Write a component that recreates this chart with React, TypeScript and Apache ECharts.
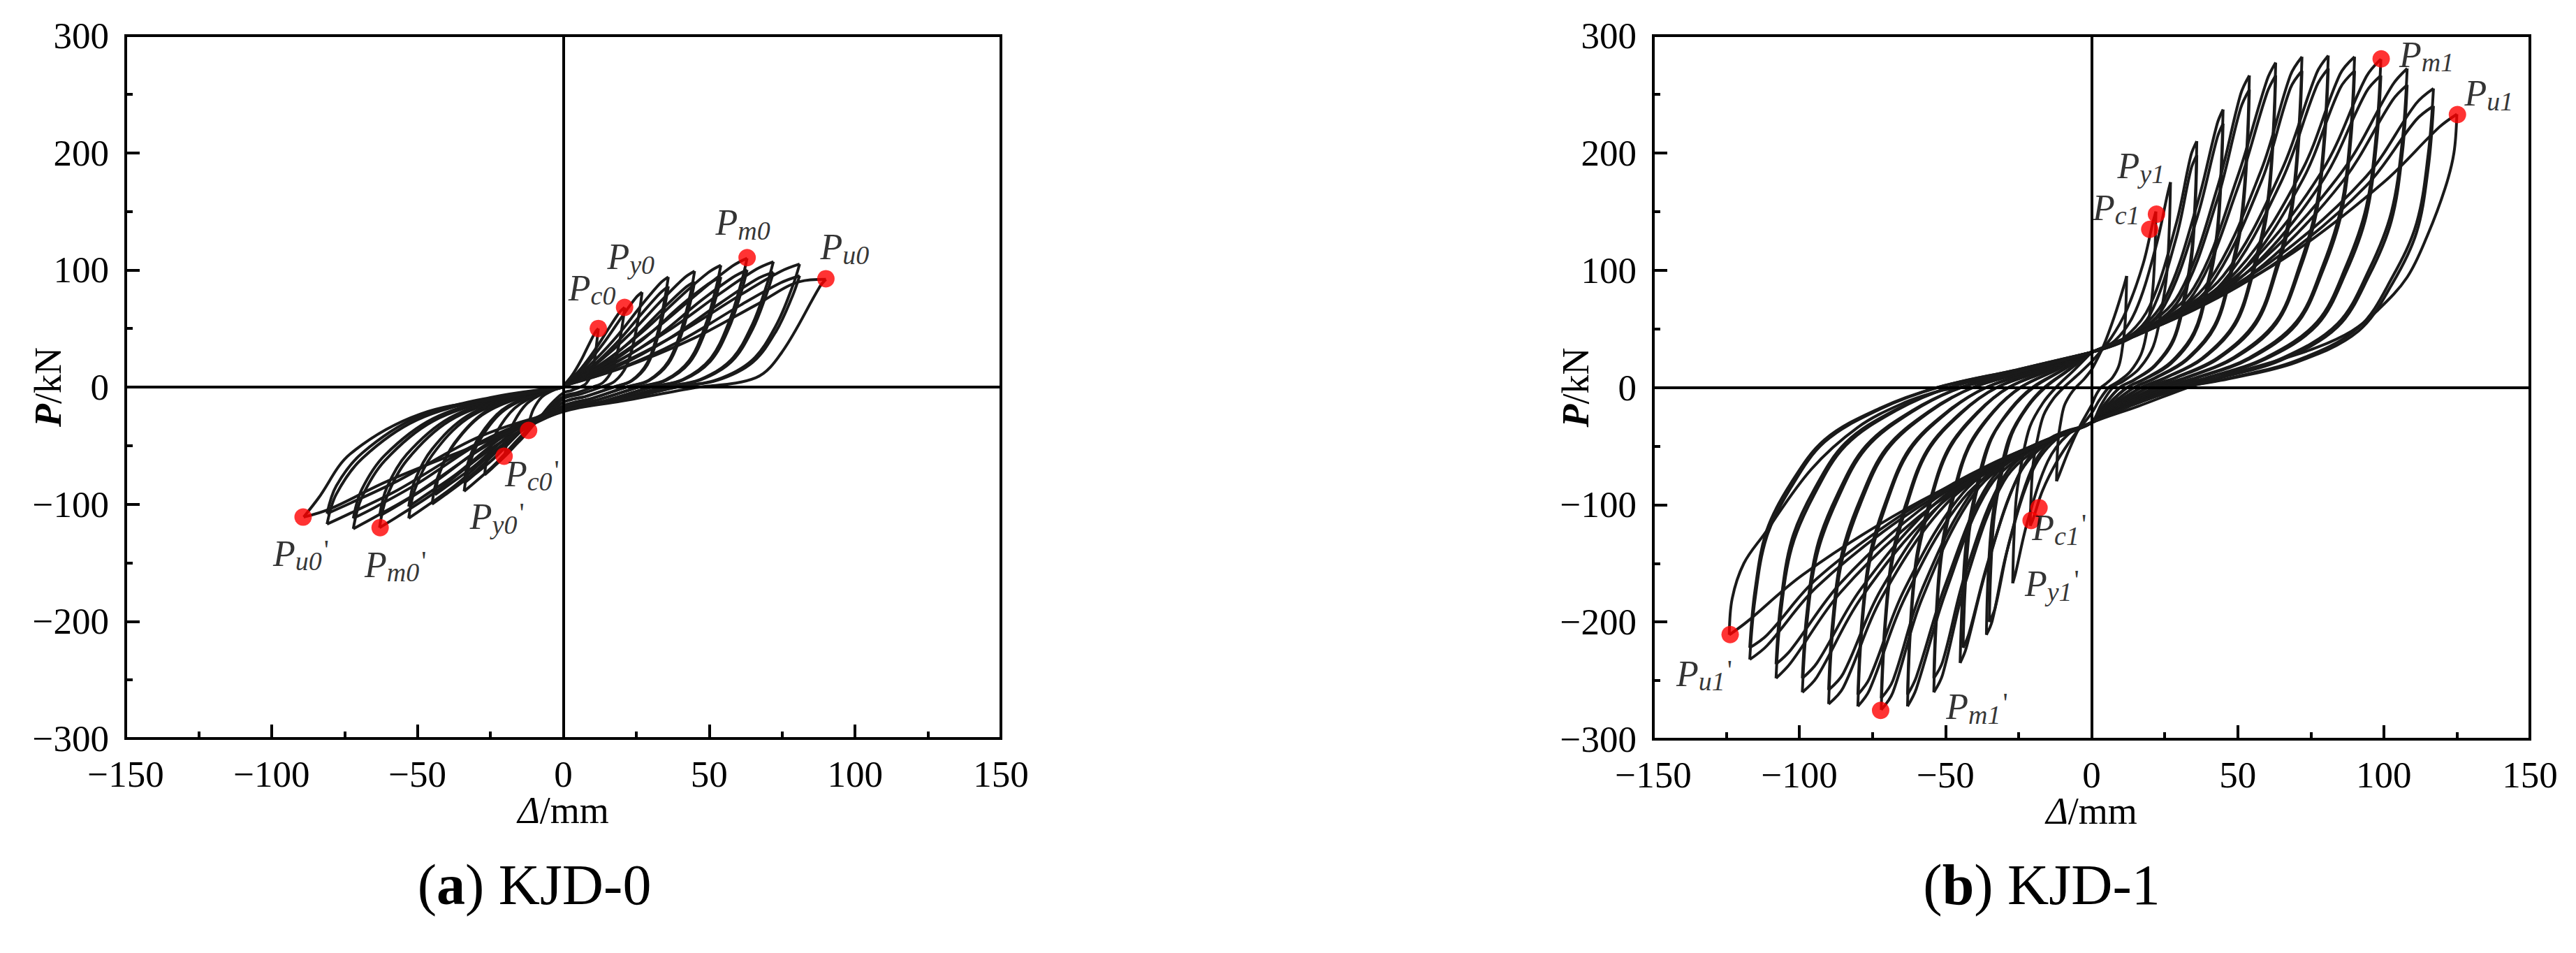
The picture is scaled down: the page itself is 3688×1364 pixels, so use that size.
import React, { useEffect, useRef } from 'react';
import * as echarts from 'echarts';

const FONT = 'Liberation Serif';
const CURVE_COLOR = '#1a1a1a';

// ---------- axis ticks ----------
const X_MIN = -150, X_MAX = 150, X_STEP = 50;
const Y_MIN = -300, Y_MAX = 300, Y_STEP = 100;

// ---------- KJD-0 hysteresis loops (flat x,y lists, Δ/mm, P/kN) ----------
const A1 = [0,1, 3,10, 6,22.5, 9,37.5, 11,47, 12,50, 11.6,41, 10.8,25, 9.6,11, 7.8,3, 5.8,0, 2.6,-3, 0,-5, -4.2,-14.4, -8.4,-27, -10.8,-33, -12,-36, -11.5,-28, -10.2,-18.7, -7.4,-8.6, -3.6,-2.9, 0,0];
const A2 = [0,1, 5.3,13.6, 10.5,30.6, 15.8,51, 19.3,64, 21,68, 20.4,55.8, 18.9,34, 16.8,15, 13.7,4.1, 10.1,0, 4.6,-4.8, 0,-8, -7,-23.2, -14,-43.5, -18,-53.4, -20,-58, -19.2,-45.2, -17,-30.2, -12.4,-13.9, -6,-4.6, 0,0];
const A3 = [0,1, 6.8,16.2, 13.5,36.5, 20.3,60.8, 24.8,76.1, 27,81, 26.2,66.4, 24.3,40.5, 21.6,17.8, 17.6,4.9, 13,0, 5.9,-6, 0,-10, -9.5,-30, -18.9,-56.3, -24.3,-69, -27,-75, -25.9,-58.5, -23,-39, -16.7,-18, -8.1,-6, 0,0];
const A4 = [0,1, 9,18.8, 18,42.3, 27,70.5, 33.1,88.4, 36,94, 34.9,77.1, 32.4,47, 28.8,20.7, 23.4,5.6, 17.3,0, 7.9,-7.8, 0,-13, -11.9,-35.6, -23.8,-66.8, -30.6,-81.9, -34,-89, -32.6,-69.4, -28.9,-46.3, -21.1,-21.4, -10.2,-7.1, 0,0];
const A4B = [0,1, 9,16, 18,37, 27,63, 33.1,80, 36,86, 34.9,70.5, 32.4,43, 28.8,19, 23.4,5.2, 17.3,0, 7.9,-7.8, 0,-13, -11.9,-32, -23.8,-61, -30.6,-75, -34,-82, -32.6,-64, -28.9,-42.6, -21.1,-19.7, -10.2,-6.6, 0,0];
const A5 = [0,1, 11.3,19.8, 22.5,44.6, 33.8,74.3, 41.4,93.1, 45,99, 43.7,81.2, 40.5,49.5, 36,21.8, 29.3,5.9, 21.6,0, 9.9,-9.6, 0,-16, -15.8,-40, -31.5,-75, -40.5,-92, -45,-100, -43.2,-78, -38.3,-52, -27.9,-24, -13.5,-8, 0,0];
const A5B = [0,1, 11.3,16, 22.5,38, 33.8,66, 41.4,84, 45,90, 43.7,74, 40.5,45, 36,20, 29.3,5.4, 21.6,0, 9.9,-9.6, 0,-16, -15.4,-35, -30.8,-68, -39.6,-84, -44,-92, -42.2,-72, -37.4,-48, -27.3,-22, -13.2,-7.4, 0,0];
const A6 = [0,1, 13.5,20.8, 27,46.8, 40.5,78, 49.7,97.8, 54,104, 52.4,85.3, 48.6,52, 43.2,22.9, 35.1,6.2, 25.9,0, 11.9,-10.8, 0,-18, -18.6,-44.8, -37.1,-84, -47.7,-103, -53,-112, -50.9,-87.4, -45,-58.2, -32.9,-26.9, -15.9,-9, 0,0];
const A6B = [0,1, 13.5,17, 27,40, 40.5,70, 49.7,88, 54,94, 52.4,77, 48.6,47, 43.2,20.7, 35.1,5.6, 25.9,0, 11.9,-10.8, 0,-18, -18.6,-39, -37.1,-75, -47.7,-93, -53,-102, -50.9,-79.6, -45,-53, -32.9,-24.5, -15.9,-8.2, 0,0];
const A7 = [0,1, 15.8,22, 31.5,49.5, 47.3,82.5, 58,103.4, 63,110, 61.1,90.2, 56.7,55, 50.4,24.2, 41,6.6, 30.2,0, 13.9,-12, 0,-20, -22,-48, -44.1,-90, -56.7,-110.4, -63,-120, -60.5,-93.6, -53.6,-62.4, -39,-28.8, -18.9,-9.6, 0,0];
const A7B = [0,1, 15.8,18, 31.5,42, 47.3,74, 58,93.5, 63,100, 61.1,82, 56.7,50, 50.4,22, 41,6, 30.2,0, 13.9,-12, 0,-20, -22,-42, -44.1,-81, -56.7,-101, -63,-110, -60.5,-85.8, -53.6,-57.2, -39,-26.4, -18.9,-8.8, 0,0];
const A8 = [0,1, 18,21.4, 36,48.2, 54,80.3, 66.2,100.6, 72,107, 69.8,87.7, 64.8,53.5, 57.6,23.5, 46.8,6.4, 34.6,0, 15.8,-12, 0,-20, -25.2,-48.4, -50.4,-90.8, -64.8,-111.3, -72,-121, -69.1,-94.4, -61.2,-62.9, -44.6,-29, -21.6,-9.7, 0,0];
const A8B = [0,1, 18,17, 36,41, 54,72, 66.2,92, 72,98, 69.8,80.4, 64.8,49, 57.6,21.6, 46.8,5.9, 34.6,0, 15.8,-12, 0,-20, -25.2,-43, -50.4,-83, -64.8,-103, -72,-112, -69.1,-87.4, -61.2,-58.2, -44.6,-26.9, -21.6,-9, 0,0];
const A9 = [0,1, 20.3,21, 40.5,47.3, 60.8,78.8, 74.5,98.7, 81,105, 78.6,86.1, 72.9,52.5, 64.8,23.1, 52.7,6.3, 38.9,0, 17.8,-12, 0,-20, -28.4,-46.8, -56.7,-87.8, -72.9,-107.6, -81,-117, -77.8,-91.3, -68.9,-60.8, -50.2,-28.1, -24.3,-9.4, 0,0];
const A9B = [0,1, 20.3,17, 40.5,40, 60.8,70, 74.5,89, 81,95, 78.6,78, 72.9,47.5, 64.8,20.9, 52.7,5.7, 38.9,0, 17.8,-12, 0,-20, -28.4,-42, -56.7,-80, -72.9,-99, -81,-108, -77.8,-84.2, -68.9,-56.2, -50.2,-25.9, -24.3,-8.6, 0,0];
const A10 = [0,1, 22,18, 45,42, 66,70, 81,90, 90,92, 88,86, 75,30, 66,8, 44,-1, 20,-12, 0,-21, -30,-50, -60,-80, -80,-104, -89,-111, -84,-95, -73,-57, -49,-23, -18,-8, 0,0];
const KJD0_LOOPS = [A1, A2, A3, A4, A4B, A5, A5B, A6, A6B, A7, A7B, A8, A8B, A9, A9B, A10];

// ---------- KJD-1 hysteresis loops ----------
const B1 = [0,15, 4,35, 8,62, 11,86, 12,95, 11.8,74, 11.4,52, 10.6,35, 9.4,19, 7.2,8.6, 4.8,2.9, 3.2,0, 1.4,-7, 0,-15, -4,-33, -8,-55, -11,-74, -12,-80, -11.8,-62, -11.4,-44, -10.6,-30, -9.4,-16, -7.4,-6.4, -5.4,0, -2.6,7, 0,15];
const B2 = [0,22, 6.6,42, 12,66, 17.6,105, 21,141, 22,150, 21.7,117, 20.9,82.5, 19.4,55.5, 17.2,30, 13.2,13.5, 8.8,4.5, 5.9,0, 2.6,-11, 0,-22, -6.3,-42, -11.6,-62, -16.8,-88, -20,-112, -21,-118, -20.7,-92, -20,-65, -18.5,-43.7, -16.4,-23.6, -13,-9.4, -9.5,0, -4.6,11, 0,22];
const B3 = [0,30, 8,40, 15,65, 22,120, 26,165, 27,175, 26.6,136.5, 25.7,96, 23.8,64.8, 21.1,35, 16.2,15.8, 10.8,5.3, 7.3,0, 3.2,-15, 0,-30, -8,-40, -15,-63, -22,-115, -26,-158, -27,-167, -26.6,-130, -25.7,-92, -23.8,-62, -21.1,-33.4, -16.7,-13.4, -12.2,0, -5.9,15, 0,30];
const B4 = [0,30, 11,42, 20,70, 29,140, 34,198, 36,210, 35.5,164, 34.2,115.5, 31.7,77.7, 28.1,42, 21.6,18.9, 14.4,6.3, 9.7,0, 4.3,-15, 0,-30, -11,-42, -20,-70, -29,-140, -34,-199, -36,-211, -35.5,-164.6, -34.2,-116, -31.7,-78, -28.1,-42.2, -22.3,-16.9, -16.2,0, -7.9,15, 0,30];
const B4B = [0,30, 11,40, 20,62, 29,128, 34,186, 36,198, 35.5,154, 34.2,109, 31.7,73, 28.1,40, 21.6,18, 14.4,6, 9.7,0, 4.3,-15, 0,-30, -11,-40, -19.5,-64, -28,-130, -33,-188, -35,-200, -34.5,-156, -33.3,-110, -30.8,-74, -27.3,-40, -21.7,-16, -15.8,0, -7.7,15, 0,30];
const B5 = [0,30, 14,45, 25,75, 36,155, 43,225, 45,237, 44.3,185, 42.8,130, 39.6,87.7, 35.1,47.4, 27,21.3, 18,7.1, 12.2,0, 5.4,-15, 0,-30, -14,-45, -25,-75, -36,-155, -43,-223, -45,-235, -44.3,-183, -42.8,-129, -39.6,-87, -35.1,-47, -27.9,-18.8, -20.3,0, -9.9,15, 0,30];
const B5B = [0,30, 14,43, 25,70, 36,144, 43,213, 45,225, 44.3,175.5, 42.8,124, 39.6,83, 35.1,45, 27,20, 18,6.8, 12.2,0, 5.4,-15, 0,-30, -14,-43, -24,-70, -35,-145, -42,-210, -44,-222, -43.3,-173, -41.8,-122, -38.7,-82, -34.3,-44, -27.3,-18, -19.8,0, -9.7,15, 0,30];
const B6 = [0,30, 16,48, 30,80, 43,170, 51,250, 54,266, 53.2,207.5, 51.3,146.3, 47.5,98.4, 42.1,53.2, 32.4,24, 21.6,8, 14.6,0, 6.5,-15, 0,-30, -16,-48, -30,-80, -43,-165, -51,-245, -54,-260, -53.2,-202.8, -51.3,-143, -47.5,-96.2, -42.1,-52, -33.5,-20.8, -24.3,0, -11.9,15, 0,30];
const B6B = [0,30, 16,46, 30,75, 43,160, 51,238, 54,254, 53.2,198, 51.3,140, 47.5,94, 42.1,51, 32.4,23, 21.6,7.6, 14.6,0, 6.5,-15, 0,-30, -16,-46, -30,-76, -43,-157, -51,-234, -54,-248, -53.2,-193, -51.3,-136, -47.5,-92, -42.1,-50, -33.5,-20, -24.3,0, -11.9,15, 0,30];
const B7 = [0,30, 19,51, 35,85, 50,180, 60,262, 63,277, 62.1,216, 59.9,152.4, 55.4,102.5, 49.1,55.4, 37.8,24.9, 25.2,8.3, 17,0, 7.6,-15, 0,-30, -19,-51, -35,-85, -50,-175, -60,-257, -63,-272, -62.1,-212, -59.9,-149.6, -55.4,-100.6, -49.1,-54.4, -39,-21.8, -28.4,0, -13.9,15, 0,30];
const B7B = [0,30, 19,49, 35,80, 50,170, 60,251, 63,266, 62.1,207.5, 59.9,146.3, 55.4,98.4, 49.1,53.2, 37.8,24, 25.2,8, 17,0, 7.6,-15, 0,-30, -19,-49, -35,-81, -50,-168, -60,-247, -63,-262, -62.1,-204.4, -59.9,-144, -55.4,-97, -49.1,-52.4, -39,-21, -28.4,0, -13.9,15, 0,30];
const B8 = [0,30, 22,54, 40,90, 58,185, 68,266, 72,282, 70.9,220, 68.4,155, 63.4,104.3, 56.2,56.4, 43.2,25.4, 28.8,8.5, 19.4,0, 8.6,-15, 0,-30, -22,-54, -40,-90, -58,-180, -68,-260, -72,-275, -70.9,-214.5, -68.4,-151.3, -63.4,-101.8, -56.2,-55, -44.6,-22, -32.4,0, -15.8,15, 0,30];
const B8B = [0,30, 22,52, 40,85, 58,175, 68,255, 72,270, 70.9,210.6, 68.4,148.5, 63.4,100, 56.2,54, 43.2,24.3, 28.8,8.1, 19.4,0, 8.6,-15, 0,-30, -22,-52, -40,-86, -58,-172, -68,-250, -72,-265, -70.9,-206.7, -68.4,-145.8, -63.4,-98, -56.2,-53, -44.6,-21.2, -32.4,0, -15.8,15, 0,30];
const B9 = [0,30, 24,57, 45,95, 65,185, 77,268, 81,283, 79.8,220.7, 77,155.7, 71.3,104.7, 63.2,56.6, 48.6,25.5, 32.4,8.5, 21.9,0, 9.7,-15, 0,-30, -24,-57, -44,-95, -64,-180, -76,-258, -80,-272, -78.8,-212, -76,-149.6, -70.4,-100.6, -62.4,-54.4, -49.6,-21.8, -36,0, -17.6,15, 0,30];
const B9B = [0,30, 24,55, 45,90, 65,176, 77,257, 81,272, 79.8,212, 77,149.6, 71.3,100.6, 63.2,54.4, 48.6,24.5, 32.4,8.2, 21.9,0, 9.7,-15, 0,-30, -24,-55, -44,-90, -64,-172, -76,-248, -80,-262, -78.8,-204.4, -76,-144, -70.4,-97, -62.4,-52.4, -49.6,-21, -36,0, -17.6,15, 0,30];
const B10 = [0,30, 27,60, 50,100, 72,185, 85,267, 90,282, 88.7,220, 85.5,155, 79.2,104.3, 70.2,56.4, 54,25.4, 36,8.5, 24.3,0, 10.8,-15, 0,-30, -27,-60, -50,-100, -72,-180, -85,-256, -90,-270, -88.7,-210.6, -85.5,-148.5, -79.2,-99.9, -70.2,-54, -55.8,-21.6, -40.5,0, -19.8,15, 0,30];
const B10B = [0,30, 27,58, 50,95, 72,176, 85,255, 90,270, 88.7,210.6, 85.5,148.5, 79.2,100, 70.2,54, 54,24.3, 36,8.1, 24.3,0, 10.8,-15, 0,-30, -27,-58, -50,-95, -72,-172, -85,-244, -90,-258, -88.7,-201, -85.5,-142, -79.2,-95.5, -70.2,-51.6, -55.8,-20.6, -40.5,0, -19.8,15, 0,30];
const B11 = [0,30, 30,63, 54,105, 79,185, 94,265, 99,280, 97.5,218.4, 94,154, 87.1,103.6, 77.2,56, 59.4,25.2, 39.6,8.4, 26.7,0, 11.9,-15, 0,-30, -30,-63, -54,-105, -79,-180, -94,-247, -99,-260, -97.5,-202.8, -94,-143, -87.1,-96.2, -77.2,-52, -61.4,-20.8, -44.6,0, -21.8,15, 0,30];
const B11B = [0,30, 30,61, 54,100, 79,176, 94,252, 99,266, 97.5,207.5, 94,146.3, 87.1,98.4, 77.2,53.2, 59.4,24, 39.6,8, 26.7,0, 11.9,-15, 0,-30, -30,-61, -54,-100, -79,-172, -94,-235, -99,-248, -97.5,-193.4, -94,-136.4, -87.1,-91.8, -77.2,-49.6, -61.4,-19.8, -44.6,0, -21.8,15, 0,30];
const B12 = [0,30, 32,65, 59,110, 86,185, 103,258, 108,272, 106.4,212, 102.6,149.6, 95,100.6, 84.2,54.4, 64.8,24.5, 43.2,8.2, 29.2,0, 13,-15, 0,-30, -32,-65, -59,-110, -86,-175, -103,-235, -108,-248, -106.4,-193.4, -102.6,-136.4, -95,-91.8, -84.2,-49.6, -67,-19.8, -48.6,0, -23.8,15, 0,30];
const B12B = [0,30, 32,63, 59,105, 86,176, 103,245, 108,258, 106.4,201, 102.6,142, 95,95.5, 84.2,51.6, 64.8,23.2, 43.2,7.7, 29.2,0, 13,-15, 0,-30, -32,-63, -59,-105, -86,-167, -103,-224, -108,-236, -106.4,-184, -102.6,-129.8, -95,-87.3, -84.2,-47.2, -67,-18.9, -48.6,0, -23.8,15, 0,30];
const B13 = [0,30, 35,68.5, 64,112, 94,180, 111,242, 117,255, 115.2,199, 111.2,140, 103,94.4, 91.3,51, 70.2,23, 46.8,7.7, 31.6,0, 14,-15, 0,-30, -35,-68, -64,-110, -94,-170, -111,-220, -117,-232, -115.2,-181, -111.2,-127.6, -103,-85.8, -91.3,-46.4, -72.5,-18.6, -52.7,0, -25.7,15, 0,30];
const B13B = [0,30, 35,66, 64,108, 94,172, 111,228, 117,240, 115.2,187, 111.2,132, 103,88.8, 91.3,48, 70.2,21.6, 46.8,7.2, 31.6,0, 14,-15, 0,-30, -35,-66, -64,-107, -94,-163, -111,-211, -117,-222, -115.2,-173, -111.2,-122, -103,-82, -91.3,-44.4, -72.5,-17.8, -52.7,0, -25.7,15, 0,30];
const B14 = [0,30, 37.5,71, 69,115, 100,175, 119,222, 125,233, 124,200, 121,170, 115,130, 108,94, 98,66, 89,48, 77,34, 61,21, 44,9, 33,0, 16,-16, 0,-30, -37,-70, -68,-110, -99,-160, -118,-200, -124,-211, -123,-180, -119,-150, -112,-125, -96,-70, -80,-34, -65,-14, -52,-3, -45,0, -25,13, 0,30];
const KJD1_LOOPS = [B1, B2, B3, B4, B4B, B5, B5B, B6, B6B, B7, B7B, B8, B8B, B9, B9B, B10, B10B, B11, B11B, B12, B12B, B13, B13B, B14];

// ---------- characteristic points ----------
const KJD0_PT_NAMES = ["c0", "y0", "m0", "u0", "c0'", "y0'", "m0'", "u0'"];
const KJD0_PT_X = [12, 21, 63, 90, -11.9, -20.3, -62.8, -89.2];
const KJD0_PT_Y = [50, 68, 110.5, 92.5, -37, -59, -120, -111];
const KJD1_PT_NAMES = ["c1", "y1", "m1", "u1", "c1'", "y1'", "m1'", "u1'"];
const KJD1_PT_X = [19.9, 22.2, 99.1, 125.2, -18, -20.7, -72.2, -123.7];
const KJD1_PT_Y = [134.8, 147.7, 280.2, 232.7, -102.6, -113.5, -275.4, -210.8];

// label placement (pixel offsets of label centre from the dot) — layout only
const KJD0_LABEL_OFFSETS = [[-9, -56], [9, -70], [-6, -48], [27, -43], [5, 64], [-10, 89], [22, 55], [-3, 54]];
const KJD1_LABEL_OFFSETS = [[-48, -29], [-22, -67], [65, -4], [45, -28], [29, 31], [30, 93], [138, -3], [-37, 58]];

const CAPTIONS = [['a', 'KJD-0'], ['b', 'KJD-1']];

function pairs(flat: number[]): number[][] {
  const out: number[][] = [];
  for (let i = 0; i + 1 < flat.length; i += 2) out.push([flat[i], flat[i + 1]]);
  return out;
}

function splitLoop(pts: number[][]): number[][][] {
  let iMax = 0;
  let iMin = 0;
  pts.forEach((p, i) => {
    if (p[0] > pts[iMax][0]) iMax = i;
    if (p[0] < pts[iMin][0]) iMin = i;
  });
  const a = Math.min(iMax, iMin);
  const b = Math.max(iMax, iMin);
  return [pts.slice(0, a + 1), pts.slice(a, b + 1), pts.slice(b)].filter((s) => s.length > 1);
}

const RICH_LABEL = {
  p: { fontFamily: FONT, fontStyle: 'italic', fontSize: 52, lineHeight: 56, color: '#000', verticalAlign: 'top' },
  s: { fontFamily: FONT, fontStyle: 'italic', fontSize: 38, lineHeight: 40, padding: [28, 0, 0, 0], color: '#000', verticalAlign: 'bottom' },
  q: { fontFamily: FONT, fontSize: 40, lineHeight: 40, color: '#000', verticalAlign: 'top', padding: [0, 0, 0, 3] },
};

function labelText(name: string): string {
  const prime = name.endsWith("'");
  const sub = name.replace("'", '');
  return '{p|P}{s|' + sub + '}' + (prime ? "{q|'}" : '');
}

function loopSeries(loops: number[][], k: number): any[] {
  const out: any[] = [];
  loops.forEach((flat) => {
    splitLoop(pairs(flat)).forEach((seg) => {
      out.push({
        type: 'line',
        xAxisIndex: k,
        yAxisIndex: k,
        data: seg,
        smooth: 0.35,
        symbol: 'none',
        showSymbol: false,
        silent: true,
        z: 3,
        lineStyle: { color: CURVE_COLOR, width: 4 },
      });
    });
  });
  // zero lines
  out.push({
    type: 'line',
    xAxisIndex: k,
    yAxisIndex: k,
    data: [],
    silent: true,
    z: 4,
    markLine: {
      silent: true,
      symbol: ['none', 'none'],
      label: { show: false },
      lineStyle: { color: '#000', width: 4, type: 'solid' },
      data: [{ xAxis: 0 }, { yAxis: 0 }],
    },
  });
  return out;
}

function markerSeries(names: string[], xs: number[], ys: number[], offsets: number[][], k: number): any {
  return {
    type: 'scatter',
    xAxisIndex: k,
    yAxisIndex: k,
    symbol: 'circle',
    symbolSize: 25,
    z: 10,
    silent: true,
    itemStyle: { color: '#ff0000' },
    label: {
      show: true,
      position: ['50%', '50%'],
      align: 'center',
      verticalAlign: 'middle',
      formatter: (p: any) => labelText(p.name),
      rich: RICH_LABEL,
      color: '#000',
    },
    data: names.map((n, i) => ({
      value: [xs[i], ys[i]],
      name: n,
      label: { offset: offsets[i] },
    })),
  };
}

const minusFmt = (v: number) => (v < 0 ? '\u2212' + Math.abs(v) : String(v));

function xAxisCfg(k: number): any {
  return {
    gridIndex: k,
    type: 'value',
    min: X_MIN,
    max: X_MAX,
    interval: X_STEP,
    axisLine: { onZero: false, lineStyle: { color: '#000', width: 4 } },
    axisTick: { inside: true, length: 20, lineStyle: { color: '#000', width: 4 } },
    minorTick: { show: true, splitNumber: 2, length: 10, lineStyle: { color: '#000', width: 4 } },
    splitLine: { show: false },
    minorSplitLine: { show: false },
    axisLabel: { fontFamily: FONT, fontSize: 53, color: '#000', margin: 24, formatter: minusFmt, showMinLabel: true, showMaxLabel: true },
    name: '{a|\u0394}{b|/mm}',
    nameLocation: 'middle',
    nameGap: 76,
    nameMoveOverlap: false,
    nameTextStyle: {
      fontFamily: FONT,
      rich: {
        a: { fontFamily: FONT, fontStyle: 'italic', fontSize: 54, color: '#000' },
        b: { fontFamily: FONT, fontSize: 54, color: '#000' },
      },
    },
  };
}

function yAxisCfg(k: number): any {
  return {
    gridIndex: k,
    type: 'value',
    min: Y_MIN,
    max: Y_MAX,
    interval: Y_STEP,
    axisLine: { onZero: false, lineStyle: { color: '#000', width: 4 } },
    axisTick: { inside: true, length: 20, lineStyle: { color: '#000', width: 4 } },
    minorTick: { show: true, splitNumber: 2, length: 10, lineStyle: { color: '#000', width: 4 } },
    splitLine: { show: false },
    minorSplitLine: { show: false },
    axisLabel: { fontFamily: FONT, fontSize: 53, color: '#000', margin: 24, formatter: minusFmt, showMinLabel: true, showMaxLabel: true },
    name: '{a|P}{b|/kN}',
    nameLocation: 'middle',
    nameGap: 84,
    nameMoveOverlap: false,
    nameTextStyle: {
      fontFamily: FONT,
      rich: {
        a: { fontFamily: FONT, fontStyle: 'italic', fontWeight: 'bold', fontSize: 54, color: '#000' },
        b: { fontFamily: FONT, fontSize: 54, color: '#000' },
      },
    },
  };
}

export default function App() {
  const ref = useRef<HTMLDivElement>(null);

  useEffect(() => {
    if (!ref.current) return;
    const chart = echarts.init(ref.current, undefined, { renderer: 'svg' });
    const gridBase = { show: true, borderColor: '#000', borderWidth: 4, backgroundColor: 'transparent', containLabel: false };
    const captionX = [765, 2923];
    chart.setOption({
      animation: false,
      backgroundColor: '#ffffff',
      textStyle: { fontFamily: FONT },
      grid: [
        { ...gridBase, left: 180, top: 51, width: 1253, height: 1006 },
        { ...gridBase, left: 2367, top: 51, width: 1255, height: 1007 },
      ],
      xAxis: [xAxisCfg(0), xAxisCfg(1)],
      yAxis: [yAxisCfg(0), yAxisCfg(1)],
      graphic: CAPTIONS.map((c, i) => ({
        type: 'text',
        x: captionX[i],
        y: 1266,
        silent: true,
        style: {
          text: '{a|(}{b|' + c[0] + '}{a|) ' + c[1] + '}',
          align: 'center',
          verticalAlign: 'middle',
          fill: '#000',
          font: '82px ' + FONT,
          rich: {
            a: { fontFamily: FONT, fontSize: 82, fill: '#000', color: '#000' },
            b: { fontFamily: FONT, fontSize: 82, fontWeight: 'bold', fill: '#000', color: '#000' },
          },
        },
      })),
      series: [
        ...loopSeries(KJD0_LOOPS, 0),
        ...loopSeries(KJD1_LOOPS, 1),
        markerSeries(KJD0_PT_NAMES, KJD0_PT_X, KJD0_PT_Y, KJD0_LABEL_OFFSETS, 0),
        markerSeries(KJD1_PT_NAMES, KJD1_PT_X, KJD1_PT_Y, KJD1_LABEL_OFFSETS, 1),
      ],
    });
    return () => chart.dispose();
  }, []);

  return (
    <div
      ref={ref}
      style={{ position: 'absolute', left: 0, top: 0, width: 3688, height: 1364, background: '#fff' }}
    />
  );
}
